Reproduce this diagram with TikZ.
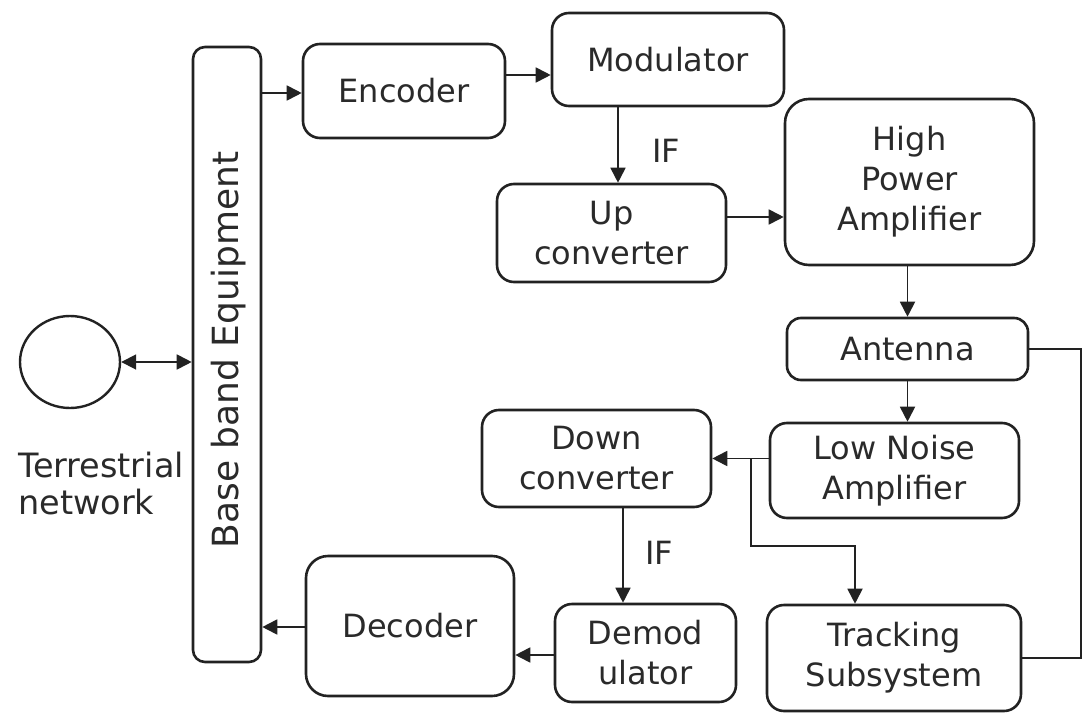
\documentclass[tikz,border=0pt]{standalone}
\usepackage{fontspec}
\setmainfont{DejaVu Sans}
\usetikzlibrary{arrows.meta,calc,shapes.geometric}
\definecolor{ink}{HTML}{222222}
\definecolor{txt}{HTML}{2A2A2A}
\tikzset{
  blk/.style={draw=ink, line width=2.6pt, rounded corners=17pt, fill=white,
    align=center, text=txt, inner sep=0pt,
    font=\fontsize{32}{40}\selectfont},
  arr/.style={draw=ink, line width=1.8pt,
    -{Triangle[length=15pt,width=15pt]}},
  link/.style={draw=ink, line width=1.8pt},
  lbl/.style={text=txt, font=\fontsize{32}{37}\selectfont, inner sep=0pt}
}
\begin{document}
\begin{tikzpicture}[x=1pt,y=-1pt]
\useasboundingbox (0,0) rectangle (1084,717);
\fill[white] (0,0) rectangle (1084,717);

% terrestrial side
\node[draw=ink, line width=2.4pt, ellipse, minimum width=100pt, minimum height=92pt, inner sep=0pt] (circ) at (70,362) {};
\node[lbl, align=left, anchor=west, font=\fontsize{33.5}{37}\selectfont] (terr) at (18,484) {Terrestrial\\network};

% base band equipment
\node[blk, rounded corners=12pt, minimum width=68pt, minimum height=615pt] (bb) at (227,354.5) {};
\node[lbl, rotate=90, font=\fontsize{36}{40}\selectfont] (bbtext) at (229,350) {Base band Equipment};

% transmit chain
\node[blk, minimum width=202pt, minimum height=94pt] (enc) at (404,91) {Encoder};
\node[blk, minimum width=232pt, minimum height=93pt] (mod) at (668,59.5) {Modulator};
\node[blk, minimum width=229pt, minimum height=98pt] (up) at (611.5,233) {Up\\converter};
\node[blk, rounded corners=24pt, minimum width=249pt, minimum height=166pt] (hpa) at (909.5,182) {High\\Power\\Amplifier};
\node[blk, rounded corners=14pt, minimum width=241pt, minimum height=62pt] (ant) at (907.5,349) {Antenna};

% receive chain
\node[blk, minimum width=249pt, minimum height=95pt] (lna) at (894.5,470.5) {Low Noise\\Amplifier};
\node[blk, minimum width=229pt, minimum height=97pt] (down) at (596.5,458.5) {Down\\converter};
\node[blk, minimum width=181pt, minimum height=98pt] (demod) at (645.5,653) {Demod\\ulator};
\node[blk, rounded corners=22pt, minimum width=208pt, minimum height=140pt] (dec) at (410,626) {Decoder};
\node[blk, minimum width=254pt, minimum height=106pt] (track) at (894,658) {Tracking\\Subsystem};

% IF labels
\node[lbl] (if1) at (666,151) {IF};
\node[lbl] (if2) at (659,553) {IF};

% connectors
\draw[link, {Triangle[length=15pt,width=15pt]}-{Triangle[length=15pt,width=15pt]}]
  (circ.east) -- (circ.east -| bb.west);
\draw[arr] ([yshift=-2pt]enc.west -| bb.east) -- ([yshift=-2pt]enc.west);
\draw[arr] ([yshift=16pt]enc.east) -- ([yshift=16pt]enc.east -| mod.west);
\draw[arr] ([xshift=6.5pt]up.north |- mod.south) -- ([xshift=6.5pt]up.north);
\draw[arr] ([yshift=16pt]up.east) -- ([yshift=16pt]up.east -| hpa.west);
\draw[arr] (hpa.south -| ant.north) -- (ant.north);
\draw[arr] (ant.south) -- (ant.south |- lna.north);
\draw[arr] (lna.west |- down.east) -- (down.east);
\coordinate (br) at ([xshift=39pt]down.east);
\draw[arr] (br) |- ([xshift=-39pt,yshift=58pt]track.north) -- ([xshift=-39pt]track.north);
\coordinate (rt) at ([xshift=52pt]ant.east);
\draw[link] (ant.east) -- (rt) |- (track.east);
\draw[arr] ([xshift=26.5pt]down.south) -- ([xshift=26.5pt]down.south |- demod.north);
\draw[arr] ([yshift=-2pt]demod.west) -- ([yshift=-2pt]demod.west -| dec.east);
\draw[arr] ([yshift=-1pt]dec.west) -- ([yshift=-1pt]dec.west -| bb.east);
\end{tikzpicture}
\end{document}
